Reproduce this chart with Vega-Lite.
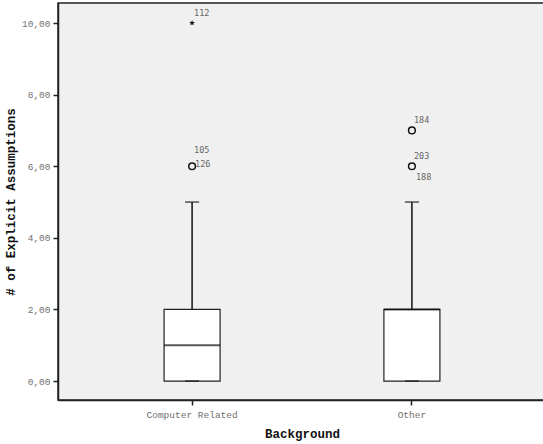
{
  "$schema": "https://vega.github.io/schema/vega-lite/v6.json",
  "autosize": "none",
  "width": 488,
  "height": 397,
  "padding": {"left": 58, "top": 3, "right": 0, "bottom": 44},
  "background": "white",
  "config": {
    "view": {"fill": "#f0f0f0", "stroke": "#222", "strokeWidth": 1.5},
    "axis": {"grid": false, "domainColor": "#222", "domainWidth": 1.5, "tickColor": "#222", "tickWidth": 1.5, "tickSize": 5,
      "labelFont": "Liberation Mono", "labelFontSize": 9.5, "labelColor": "#707070",
      "titleFont": "Liberation Mono", "titleFontSize": 12.5, "titleFontWeight": "bold", "titleColor": "#111"}
  },
  "datasets": {
    "boxes": [
      {"Background": "Computer Related", "lower": 0, "q1": 0, "median": 1, "q3": 2, "upper": 5},
      {"Background": "Other", "lower": 0, "q1": 0, "median": 2, "q3": 2, "upper": 5}
    ],
    "outliers": [
      {"Background": "Computer Related", "value": 10, "kind": "extreme"},
      {"Background": "Computer Related", "value": 6, "kind": "outlier"},
      {"Background": "Other", "value": 7, "kind": "outlier"},
      {"Background": "Other", "value": 6, "kind": "outlier"}
    ],
    "labels": [
      {"Background": "Computer Related", "value": 10, "label": "112", "pos": "above"},
      {"Background": "Computer Related", "value": 6, "label": "105", "pos": "high"},
      {"Background": "Computer Related", "value": 6, "label": "126", "pos": "right"},
      {"Background": "Other", "value": 7, "label": "184", "pos": "above"},
      {"Background": "Other", "value": 6, "label": "203", "pos": "above"},
      {"Background": "Other", "value": 6, "label": "188", "pos": "below"}
    ]
  },
  "encoding": {
    "x": {"field": "Background", "type": "nominal",
      "scale": {"domain": ["Computer Related", "Other"], "paddingInner": 0, "paddingOuter": 0.11},
      "axis": {"labelAngle": 0, "labelPadding": 4, "titlePadding": 9, "title": "Background"}},
    "y": {"type": "quantitative"}
  },
  "layer": [
    {
      "data": {"name": "boxes"},
      "mark": {"type": "rule", "color": "#111", "strokeWidth": 1.5},
      "encoding": {
        "y": {"field": "lower", "type": "quantitative",
          "scale": {"domain": [-0.53, 10.56], "nice": false, "zero": false},
          "axis": {"values": [0, 2, 4, 6, 8, 10], "labelExpr": "replace(format(datum.value, '.2f'), '.', ',')", "labelPadding": 3, "title": "# of Explicit Assumptions", "titlePadding": 4}},
        "y2": {"field": "upper"}
      }
    },
    {
      "data": {"name": "boxes"},
      "mark": {"type": "bar", "size": 56, "fill": "white", "stroke": "#222", "strokeWidth": 1.2},
      "encoding": {
        "y": {"field": "q1", "type": "quantitative"},
        "y2": {"field": "q3"}
      }
    },
    {
      "data": {"name": "boxes"},
      "mark": {"type": "tick", "orient": "horizontal", "size": 56, "thickness": 2, "color": "#111"},
      "encoding": {"y": {"field": "median", "type": "quantitative"}}
    },
    {
      "data": {"name": "boxes"},
      "mark": {"type": "tick", "orient": "horizontal", "size": 14, "thickness": 1.5, "color": "#111"},
      "encoding": {"y": {"field": "upper", "type": "quantitative"}}
    },
    {
      "data": {"name": "boxes"},
      "mark": {"type": "tick", "orient": "horizontal", "size": 14, "thickness": 1.5, "color": "#111"},
      "encoding": {"y": {"field": "lower", "type": "quantitative"}}
    },
    {
      "data": {"name": "outliers"},
      "transform": [{"filter": "datum.kind == 'outlier'"}],
      "mark": {"type": "point", "shape": "circle", "size": 45, "filled": false, "stroke": "#111", "strokeWidth": 1.5, "opacity": 1},
      "encoding": {"y": {"field": "value", "type": "quantitative"}}
    },
    {
      "data": {"name": "outliers"},
      "transform": [{"filter": "datum.kind == 'extreme'"}],
      "mark": {"type": "point", "shape": "M0,-1L0.224,-0.309L0.951,-0.309L0.363,0.118L0.588,0.809L0,0.382L-0.588,0.809L-0.363,0.118L-0.951,-0.309L-0.224,-0.309Z", "size": 40, "filled": true, "fill": "#111", "opacity": 1},
      "encoding": {"y": {"field": "value", "type": "quantitative"}}
    },
    {
      "data": {"name": "labels"},
      "transform": [{"filter": "datum.pos == 'above'"}],
      "mark": {"type": "text", "align": "left", "baseline": "middle", "dx": 2, "dy": -10, "font": "DejaVu Sans Mono", "fontSize": 8.5, "color": "#666"},
      "encoding": {"y": {"field": "value", "type": "quantitative"}, "text": {"field": "label"}}
    },
    {
      "data": {"name": "labels"},
      "transform": [{"filter": "datum.pos == 'high'"}],
      "mark": {"type": "text", "align": "left", "baseline": "middle", "dx": 2, "dy": -16, "font": "DejaVu Sans Mono", "fontSize": 8.5, "color": "#666"},
      "encoding": {"y": {"field": "value", "type": "quantitative"}, "text": {"field": "label"}}
    },
    {
      "data": {"name": "labels"},
      "transform": [{"filter": "datum.pos == 'right'"}],
      "mark": {"type": "text", "align": "left", "baseline": "middle", "dx": 3, "dy": -2, "font": "DejaVu Sans Mono", "fontSize": 8.5, "color": "#666"},
      "encoding": {"y": {"field": "value", "type": "quantitative"}, "text": {"field": "label"}}
    },
    {
      "data": {"name": "labels"},
      "transform": [{"filter": "datum.pos == 'below'"}],
      "mark": {"type": "text", "align": "left", "baseline": "middle", "dx": 4, "dy": 11, "font": "DejaVu Sans Mono", "fontSize": 8.5, "color": "#666"},
      "encoding": {"y": {"field": "value", "type": "quantitative"}, "text": {"field": "label"}}
    }
  ]
}
